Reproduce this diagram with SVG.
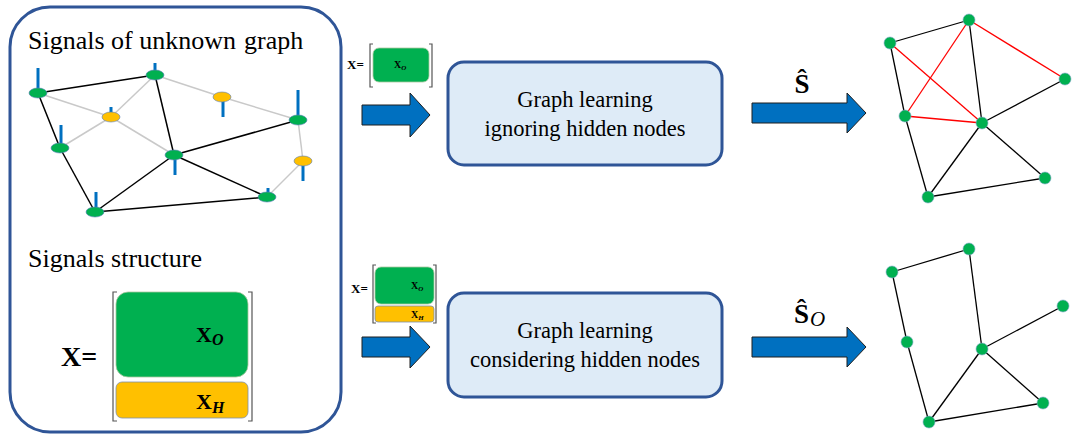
<svg xmlns="http://www.w3.org/2000/svg" width="1074" height="437" viewBox="0 0 1074 437">
<defs>
<style>
.serif{font-family:"Liberation Serif","Times New Roman",serif;fill:#000}
.lbl{font-size:26px}
.box{fill:#DEEBF7;stroke:#2F5597;stroke-width:3}
.boxtxt{font-size:22.5px;text-anchor:middle}
.arrow{fill:#0070C0;stroke:#1F1F1F;stroke-width:1}
.ek{stroke:#000;stroke-width:1.5;fill:none}
.eg{stroke:#C9C9C9;stroke-width:1.5;fill:none}
.er{stroke:#FF0000;stroke-width:1.3;fill:none}
.eb{stroke:#000;stroke-width:1.3;fill:none}
.stem{stroke:#0070C0;stroke-width:3}
.gn{fill:#00B050;stroke:#5B7DB8;stroke-width:0.6}
.yn{fill:#FFC000;stroke:#5B7DB8;stroke-width:0.6}
.rn{fill:#00B050;stroke:#7FA6C8;stroke-width:0.6}
.brk{fill:none;stroke:#555;stroke-width:1.2}
.gr{fill:#00B050;stroke:#A9C6A0;stroke-width:0.8}
.yr{fill:#FFC000;stroke:#7F8FA9;stroke-width:0.8}
.bx{font-weight:bold}
.it{font-style:italic}
</style>
</defs>
<rect width="1074" height="437" fill="#FFFFFF"/>

<g id="panel-signals">
  <rect x="10" y="7" width="331" height="425" rx="40" ry="40" fill="none" stroke="#2F5597" stroke-width="3"/>
  <text class="serif lbl" x="28" y="49">Signals of unknown<tspan dx="8">graph</tspan></text>
  <g id="signal-graph">
    <g class="eg">
      <line x1="38" y1="93" x2="111" y2="117"/>
      <line x1="111" y1="117" x2="155" y2="75"/>
      <line x1="111" y1="117" x2="60" y2="148"/>
      <line x1="111" y1="117" x2="174" y2="155"/>
      <line x1="155" y1="75" x2="222" y2="97"/>
      <line x1="222" y1="97" x2="298" y2="120"/>
      <line x1="298" y1="120" x2="303" y2="161"/>
      <line x1="303" y1="161" x2="267" y2="197"/>
    </g>
    <g class="ek">
      <line x1="38" y1="93" x2="155" y2="75"/>
      <line x1="38" y1="93" x2="60" y2="148"/>
      <line x1="60" y1="148" x2="95" y2="212"/>
      <line x1="155" y1="75" x2="174" y2="155"/>
      <line x1="174" y1="155" x2="298" y2="120"/>
      <line x1="174" y1="155" x2="95" y2="212"/>
      <line x1="174" y1="155" x2="267" y2="197"/>
      <line x1="95" y1="212" x2="267" y2="197"/>
    </g>
    <g class="stem">
      <line x1="38" y1="68" x2="38" y2="93"/>
      <line x1="155" y1="63" x2="155" y2="75"/>
      <line x1="111" y1="107" x2="111" y2="117"/>
      <line x1="223" y1="97" x2="223" y2="117"/>
      <line x1="298" y1="90" x2="298" y2="120"/>
      <line x1="61" y1="125" x2="61" y2="148"/>
      <line x1="175" y1="155" x2="175" y2="175"/>
      <line x1="303" y1="161" x2="303" y2="181"/>
      <line x1="268" y1="188" x2="268" y2="197"/>
      <line x1="96" y1="192" x2="96" y2="212"/>
    </g>
    <ellipse class="gn" cx="38" cy="93" rx="9" ry="5"/>
    <ellipse class="gn" cx="155" cy="75" rx="9" ry="5"/>
    <ellipse class="yn" cx="111" cy="117" rx="9" ry="5"/>
    <ellipse class="yn" cx="222" cy="97" rx="9" ry="5"/>
    <ellipse class="gn" cx="298" cy="120" rx="9" ry="5"/>
    <ellipse class="gn" cx="60" cy="148" rx="9" ry="5"/>
    <ellipse class="gn" cx="174" cy="155" rx="9" ry="5"/>
    <ellipse class="yn" cx="303" cy="161" rx="9" ry="5"/>
    <ellipse class="gn" cx="267" cy="197" rx="9" ry="5"/>
    <ellipse class="gn" cx="95" cy="212" rx="9" ry="5"/>
  </g>
  <text class="serif lbl" x="28" y="267">Signals structure</text>
  <text class="serif bx" x="61" y="366" font-size="28">X=</text>
  <path class="brk" d="M117,292 H113 V421 H117 M248,292 H252 V421 H248"/>
  <rect class="gr" x="116" y="292" width="132" height="85" rx="12"/>
  <rect class="yr" x="116" y="382" width="132" height="36" rx="6"/>
  <text class="serif bx" x="196" y="342" font-size="22">X<tspan class="it" font-size="16" dy="3">O</tspan></text>
  <text class="serif bx" x="196" y="409" font-size="22">X<tspan class="it" font-size="16" dy="4">H</tspan></text>
</g>

<g id="input-observed">
  <text class="serif bx" x="347" y="69" font-size="13">X=</text>
  <path class="brk" d="M373,44 H370 V87 H373 M429,44 H432 V87 H429" stroke-width="0.9"/>
  <rect class="gr" x="373" y="48" width="56" height="34" rx="6"/>
  <text class="serif bx" x="394" y="68" font-size="10">X<tspan class="it" font-size="7" dy="2">O</tspan></text>
</g>

<g id="input-full">
  <text class="serif bx" x="351" y="293" font-size="13">X=</text>
  <path class="brk" d="M376,265 H373 V323 H376 M433,265 H436 V323 H433" stroke-width="0.9"/>
  <rect class="gr" x="375" y="267" width="59" height="37" rx="6"/>
  <rect class="yr" x="375" y="306" width="59" height="16" rx="3"/>
  <text class="serif bx" x="411" y="289" font-size="10">X<tspan class="it" font-size="7" dy="2">O</tspan></text>
  <text class="serif bx" x="411" y="318" font-size="10">X<tspan class="it" font-size="7" dy="2">H</tspan></text>
</g>

<g id="box-ignoring">
  <rect class="box" x="448" y="62" width="274" height="103" rx="16"/>
  <text class="serif boxtxt" x="585" y="107">Graph learning</text>
  <text class="serif boxtxt" x="585" y="136">ignoring hidden nodes</text>
</g>

<g id="box-considering">
  <rect class="box" x="448" y="293" width="274" height="104" rx="16"/>
  <text class="serif boxtxt" x="585" y="338">Graph learning</text>
  <text class="serif boxtxt" x="585" y="367">considering hidden nodes</text>
</g>

<g id="connectors">
  <path class="arrow" d="M362,105 H410 V93 L430,115 L410,137 V125 H362 Z"/>
  <path class="arrow" d="M362,337 H410 V326 L430,347 L410,368 V357 H362 Z"/>
  <path class="arrow" d="M752,103 H847 V93 L866,113 L847,133 V123 H752 Z"/>
  <path class="arrow" d="M752,337 H847 V327 L866,347 L847,367 V357 H752 Z"/>
  <text class="serif bx" x="802" y="93" font-size="27" text-anchor="middle">Ŝ</text>
  <text class="serif bx" x="794" y="323" font-size="27">Ŝ<tspan class="it" font-size="21" font-weight="normal" dx="1" dy="3">O</tspan></text>
</g>

<g id="graph-ignoring">
  <g class="eb">
    <line x1="890" y1="43" x2="969" y2="20"/>
    <line x1="890" y1="43" x2="905" y2="116"/>
    <line x1="905" y1="116" x2="928" y2="197"/>
    <line x1="969" y1="20" x2="982" y2="123"/>
    <line x1="982" y1="123" x2="1065" y2="79"/>
    <line x1="982" y1="123" x2="928" y2="197"/>
    <line x1="982" y1="123" x2="1045" y2="178"/>
    <line x1="928" y1="197" x2="1045" y2="178"/>
  </g>
  <g class="er">
    <line x1="969" y1="20" x2="1065" y2="79"/>
    <line x1="969" y1="20" x2="905" y2="116"/>
    <line x1="890" y1="43" x2="982" y2="123"/>
    <line x1="905" y1="116" x2="982" y2="123"/>
  </g>
  <circle class="rn" cx="890" cy="43" r="6"/>
  <circle class="rn" cx="969" cy="20" r="6"/>
  <circle class="rn" cx="1065" cy="79" r="6"/>
  <circle class="rn" cx="905" cy="116" r="6"/>
  <circle class="rn" cx="982" cy="123" r="6"/>
  <circle class="rn" cx="1045" cy="178" r="6"/>
  <circle class="rn" cx="928" cy="197" r="6"/>
</g>

<g id="graph-considering">
  <g class="eb">
    <line x1="892" y1="272" x2="969" y2="249"/>
    <line x1="892" y1="272" x2="907" y2="342"/>
    <line x1="907" y1="342" x2="929" y2="422"/>
    <line x1="969" y1="249" x2="982" y2="349"/>
    <line x1="982" y1="349" x2="1063" y2="306"/>
    <line x1="982" y1="349" x2="929" y2="422"/>
    <line x1="982" y1="349" x2="1043" y2="403"/>
    <line x1="929" y1="422" x2="1043" y2="403"/>
  </g>
  <circle class="rn" cx="892" cy="272" r="6"/>
  <circle class="rn" cx="969" cy="249" r="6"/>
  <circle class="rn" cx="1063" cy="306" r="6"/>
  <circle class="rn" cx="907" cy="342" r="6"/>
  <circle class="rn" cx="982" cy="349" r="6"/>
  <circle class="rn" cx="1043" cy="403" r="6"/>
  <circle class="rn" cx="929" cy="422" r="6"/>
</g>
</svg>
